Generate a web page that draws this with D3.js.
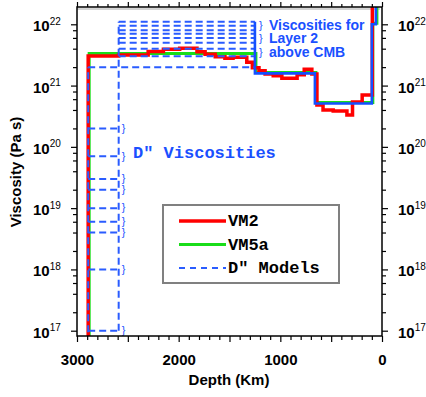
<!DOCTYPE html>
<html>
<head>
<meta charset="utf-8">
<script src="https://cdn.jsdelivr.net/npm/d3@7"></script>
<style>
  body { margin: 0; background: #fff; }
  text { font-family: "Liberation Sans", Arial, Helvetica, sans-serif; }
  .mono { font-family: "Liberation Mono", "Courier New", monospace; font-weight: bold; }
</style>
</head>
<body>
<div id="chart"></div>
<script>
var W = 426, H = 397;

// VM2: depth boundaries (km) from CMB upward, viscosity (Pa s) of each step between them
var vm2Depth = [2890, 2590, 2300, 2150, 1990, 1820, 1740, 1640, 1545, 1465, 1330, 1275, 1210, 1150, 1070, 985, 835, 765, 690, 640, 580, 480, 345, 290, 195, 95, 0];
var vm2Visc = [3.05e21, 3.15e21, 3.6e21, 3.9e21, 4.05e21, 3.55e21, 3.25e21, 2.95e21, 2.8e21, 2.9e21, 2.4e21, 1.95e21, 1.75e21, 1.55e21, 1.45e21, 1.32e21, 1.5e21, 1.85e21, 1.55e21, 4.8e20, 4.0e20, 3.85e20, 3.3e20, 5.4e20, 7.0e20, 1e24];

// VM5a
var vm5aDepth = [2890, 1250, 660, 100, 60, 0];
var vm5aVisc = [3.2e21, 1.58e21, 5.1e20, 1e22, 1e24];

// D'' models
var cmbDepth = 2890, dppTop = 2590, layer2Top = 1250;
var layer2Visc = [1.1e22, 9.5e21, 8e21, 7e21, 6e21, 5e21, 4e21, 3e21];
var dppVisc = [2e20, 7e19, 3e19, 2e19, 1e19, 6e18, 4e18, 1e18, 1e17];
var wholeLowerVisc = 2e21;

var xTicks = d3.range(0, 3001, 100);
var xLabels = [3000, 2000, 1000, 0];
var decades = [17, 18, 19, 20, 21, 22];
var minorMult = [2, 4, 6, 8];

var legendItems = [
  {name: "VM2", color: "#f00", dash: null, width: 3.5},
  {name: "VM5a", color: "#19dd19", dash: null, width: 3},
  {name: "D\" Models", color: "#2a5cff", dash: "6,5", width: 1.8}
];

var RED = "#f00", GREEN = "#19dd19", BLUE = "#1450ff", DBLUE = "#2a5cff", TBLUE = "#1a50ff";

var svg = d3.select("#chart").append("svg")
    .attr("width", W)
    .attr("height", H);

var pLeft = 77, pRight = 382, pTop = 7, pBottom = 336;

var x = d3.scaleLinear().domain([3000, 0]).range([pLeft, pRight]);
var y = d3.scaleLog().domain([1e17, 1e22]).range([330.7, 24.3]);

svg.append("clipPath").attr("id", "plot")
  .append("rect").attr("x", pLeft).attr("y", pTop)
  .attr("width", pRight - pLeft).attr("height", pBottom - pTop);

var line = d3.line()
    .x(function(d) { return x(d[0]); })
    .y(function(d) { return y(d[1]); });

function steps(depths, vals, start) {
  var pts = start ? [start] : [];
  for (var i = 0; i < vals.length; i++) {
    pts.push([depths[i], vals[i]]);
    pts.push([depths[i + 1], vals[i]]);
  }
  return pts;
}

// inner gray frame line
svg.append("line").attr("x1", pLeft).attr("x2", pRight - 2)
  .attr("y1", pTop + 2).attr("y2", pTop + 2)
  .style("stroke", "#aaa").style("stroke-width", 1);

var plot = svg.append("g").attr("clip-path", "url(#plot)");

// VM5a (green) slightly offset so it shows beside the blue
plot.append("path")
  .attr("d", line(steps(vm5aDepth, vm5aVisc, [cmbDepth, 1e15])))
  .attr("transform", "translate(1,-1)")
  .style("fill", "none").style("stroke", GREEN).style("stroke-width", 3);

// VM2 (red)
plot.append("path")
  .attr("d", line(steps(vm2Depth, vm2Visc, [cmbDepth, 1e15])))
  .style("fill", "none").style("stroke", RED).style("stroke-width", 3.5);

// D'' models (dashed)
var dashed = plot.append("g")
  .style("fill", "none").style("stroke", DBLUE)
  .style("stroke-width", 2).style("stroke-dasharray", "7,4");

layer2Visc.forEach(function(v) {
  dashed.append("path").attr("d", line([[dppTop, v], [layer2Top, v]]));
});
dashed.append("path").attr("d", line([[cmbDepth, wholeLowerVisc], [layer2Top, wholeLowerVisc]]));
dppVisc.forEach(function(v) {
  dashed.append("path").attr("d", line([[cmbDepth, v], [dppTop, v]]));
});
dashed.append("path").attr("d", line([[dppTop, d3.min(dppVisc)], [dppTop, d3.max(layer2Visc)]]));
dashed.append("path").attr("d", line([[cmbDepth, 1e15], [cmbDepth, wholeLowerVisc]]));

// upper part shared by the D'' models (solid blue)
plot.append("path")
  .attr("d", line(steps(vm5aDepth.slice(1), vm5aVisc.slice(1), [layer2Top, d3.max(layer2Visc)])))
  .style("fill", "none").style("stroke", BLUE).style("stroke-width", 2.6);

// braces for the D'' viscosities
svg.selectAll("text.brace")
  .data(dppVisc)
  .enter().append("text")
  .attr("class", "brace")
  .attr("x", x(dppTop) + 3)
  .attr("y", function(d) { return y(d); })
  .attr("dy", "0.3em")
  .style("font-size", "11px")
  .style("fill", TBLUE)
  .text("}");

svg.append("text").attr("class", "mono")
  .attr("x", 133).attr("y", 157.5)
  .style("font-size", "17px").style("fill", TBLUE)
  .text("D\" Viscosities");

var noteLines = ["Viscosities for", "Layer 2", "above CMB"];
noteLines.forEach(function(t, i) {
  svg.append("text")
    .attr("x", 259).attr("y", 28.5 + i * 13.6)
    .style("font-size", "11px").style("fill", TBLUE)
    .text("}");
  svg.append("text")
    .attr("x", 269).attr("y", 29.5 + i * 13.6)
    .style("font-size", "14px").style("font-weight", "bold").style("fill", TBLUE)
    .text(t);
});

// axes
var xBottom = d3.axisBottom(x).tickValues(xTicks).tickSize(4).tickSizeOuter(0)
  .tickFormat(function(d) { return xLabels.indexOf(d) >= 0 ? d : ""; });
var gxb = svg.append("g").attr("transform", "translate(0," + pBottom + ")").call(xBottom);
gxb.selectAll(".tick line").attr("y2", function(d) { return d % 500 === 0 ? 6 : 4; });
gxb.selectAll(".tick text").attr("y", 18).attr("dy", "0.71em")
  .style("font-size", "15px").style("font-weight", "bold")
  .style("font-family", "'Liberation Sans', Arial, sans-serif");

var xTop = d3.axisTop(x).tickValues(xTicks).tickSize(3).tickSizeOuter(0).tickFormat("");
var gxt = svg.append("g").attr("transform", "translate(0," + pTop + ")").call(xTop);
gxt.selectAll(".tick line").attr("y2", function(d) { return d % 500 === 0 ? -5 : -3; });

var yTicks = [];
decades.forEach(function(e) {
  yTicks.push({v: Math.pow(10, e), major: true});
  minorMult.forEach(function(m) {
    var v = m * Math.pow(10, e);
    if (y(v) > pTop) yTicks.push({v: v, major: false});
  });
});
var yVals = yTicks.map(function(d) { return d.v; });
var isMajor = function(v) { return yTicks.some(function(t) { return t.v === v && t.major; }); };

var gyl = svg.append("g").attr("transform", "translate(" + pLeft + ",0)")
  .call(d3.axisLeft(y).tickValues(yVals).tickSize(4).tickSizeOuter(0).tickFormat(""));
gyl.selectAll(".tick line").attr("x2", function(d) { return isMajor(d) ? -6 : -4; });
var gyr = svg.append("g").attr("transform", "translate(" + pRight + ",0)")
  .call(d3.axisRight(y).tickValues(yVals).tickSize(4).tickSizeOuter(0).tickFormat(""));
gyr.selectAll(".tick line").attr("x2", function(d) { return isMajor(d) ? 6 : 4; });

svg.selectAll(".domain").remove();
svg.selectAll(".tick line").style("stroke", "#000").style("stroke-width", 1.2);

// frame
svg.append("rect").attr("x", pLeft).attr("y", pTop)
  .attr("width", pRight - pLeft).attr("height", pBottom - pTop)
  .style("fill", "none").style("stroke", "#000").style("stroke-width", 1.5);

// decade labels, both sides
[33, 398].forEach(function(lx) {
  var t = svg.selectAll(null).data(decades).enter().append("text")
    .attr("x", lx)
    .attr("y", function(e) { return y(Math.pow(10, e)) + 7; })
    .style("font-size", "15px").style("font-weight", "bold");
  t.append("tspan").text("10");
  t.append("tspan").attr("dy", -6.5)
    .style("font-size", "10px").style("font-weight", "normal")
    .text(function(e) { return e; });
});

// axis titles
svg.append("text")
  .attr("transform", "translate(21,172) rotate(-90)")
  .attr("text-anchor", "middle")
  .style("font-size", "15px").style("font-weight", "bold")
  .text("Viscosity (Pa s)");
svg.append("text")
  .attr("x", 229).attr("y", 385)
  .attr("text-anchor", "middle")
  .style("font-size", "15px").style("font-weight", "bold")
  .text("Depth (Km)");

// legend
var lg = svg.append("g");
lg.append("rect").attr("x", 163).attr("y", 205).attr("width", 176).attr("height", 78)
  .style("fill", "#fff").style("stroke", "#808080").style("stroke-width", 2);
legendItems.forEach(function(d, i) {
  var ly = 221 + i * 23.5;
  lg.append("line").attr("x1", 179).attr("x2", 226).attr("y1", ly).attr("y2", ly)
    .style("stroke", d.color).style("stroke-width", d.width)
    .style("stroke-dasharray", d.dash);
  lg.append("text").attr("class", "mono")
    .attr("x", 228).attr("y", ly + 5)
    .style("font-size", "17px")
    .text(d.name);
});
</script>
</body>
</html>
